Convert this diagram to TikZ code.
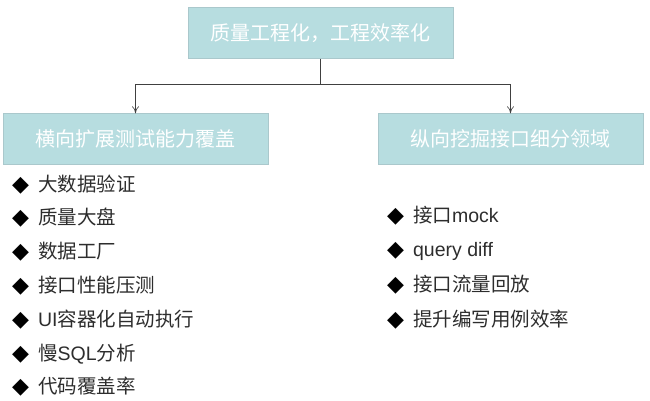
\documentclass[tikz,border=0pt]{standalone}
\usepackage{fontspec}
\setmainfont{Liberation Sans}
\newfontfamily\cjk{Noto Sans CJK SC}
\newfontfamily\sym{DejaVu Sans}
\usetikzlibrary{arrows.meta,positioning}
\definecolor{boxfill}{RGB}{183,221,224}
\definecolor{boxline}{RGB}{170,200,204}
\definecolor{txt}{RGB}{45,45,45}
\newcommand{\bul}{{\sym\fontsize{22}{24}\selectfont\color{black}◆}\hspace{9pt}}

\begin{document}
\begin{tikzpicture}[
   x=1pt,y=-1pt,
   box/.style={draw=boxline,fill=boxfill,minimum width=265pt,minimum height=51pt,
               text=white,font=\cjk\fontsize{20}{24}\selectfont,inner sep=0pt},
   item/.style={anchor=base west,text=txt,font=\fontsize{19.5}{22}\selectfont,inner sep=0pt},
   arr/.style={-{To[length=2.5mm,width=2.5mm]},draw=black!75,line width=0.6pt}
 ]
  \useasboundingbox (0,0) rectangle (650,400);
  \node[box] (top) at (320.5,33) {质量工程化，工程效率化};
  \node[box] (wide) at (135.5,139) {横向扩展测试能力覆盖};
  \node[box] (deep) at (510.5,139) {纵向挖掘接口细分领域};
  \coordinate (fork) at (320.5,84);
  \draw[draw=black!75,line width=0.6pt] (top.south) -- (fork);
  \draw[arr] (fork) -| (wide.north);
  \draw[arr] (fork) -| (deep.north);
  % bullet items
  \foreach \txt [count=\i] in {{\cjk 大数据验证},{\cjk 质量大盘},{\cjk 数据工厂},
      {\cjk 接口性能压测},{UI\cjk 容器化自动执行},{{\cjk 慢}SQL{\cjk 分析}},{\cjk 代码覆盖率}}
    \node[item] (w\i) at (12,{191+33.8*(\i-1)}) {\bul\txt};
  \foreach \txt [count=\i] in {{{\cjk 接口}mock},{query diff},{\cjk 接口流量回放},
      {\cjk 提升编写用例效率}}
    \node[item] (d\i) at (387,{222+34.7*(\i-1)}) {\bul\txt};
\end{tikzpicture}
\end{document}
